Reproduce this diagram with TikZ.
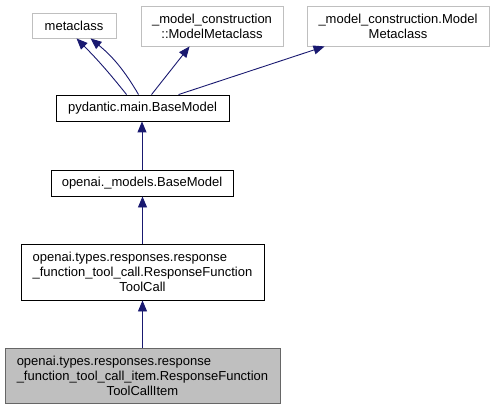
\documentclass[tikz,border=0pt]{standalone}
\usepackage{fontspec}
\setmainfont{Liberation Sans}
\usetikzlibrary{arrows.meta,calc}
\definecolor{edgeblue}{HTML}{191970}
\definecolor{boxgray}{HTML}{BFBFBF}
\definecolor{darkborder}{HTML}{666666}
\begin{document}
\begin{tikzpicture}[x=1pt,y=-1pt,
  every node/.style={font=\fontsize{13}{15}\selectfont, inner sep=0pt, align=center},
  extbox/.style={draw=boxgray, line width=0.9pt, rectangle},
  clsbox/.style={draw=black, line width=0.9pt, rectangle},
  curbox/.style={draw=darkborder, fill=boxgray, line width=0.9pt, rectangle},
  inh/.style={draw=edgeblue, line width=0.9pt, -{Triangle[length=11pt,width=9pt]}, fill=none}]
\useasboundingbox (0,0) rectangle (495,409);

\node[extbox, minimum width=84pt, minimum height=25pt] (meta) at (74,25.5) {metaclass};
\node[extbox, minimum width=142pt, minimum height=40pt] (mmca) at (212,26) {\_model\_construction\\::ModelMetaclass};
\node[extbox, minimum width=182pt, minimum height=40pt] (mmcb) at (398,26) {\_model\_construction.Model\\Metaclass};
\node[clsbox, minimum width=173pt, minimum height=26pt] (pyd) at (142.5,108) {pydantic.main.BaseModel};
\node[clsbox, minimum width=182pt, minimum height=26pt] (oai) at (142,183) {openai.\_models.BaseModel};
\node[clsbox, minimum width=243pt, minimum height=56pt] (rftc) at (142.5,272)
  {\rlap{openai.types.responses.response}\phantom{\_function\_tool\_call.ResponseFunction}\\\_function\_tool\_call.ResponseFunction\\ToolCall};
\node[curbox, minimum width=275pt, minimum height=55pt] (item) at (142.5,375.5)
  {\rlap{openai.types.responses.response}\phantom{\_function\_tool\_call\_item.ResponseFunction}\\\_function\_tool\_call\_item.ResponseFunction\\ToolCallItem};

\draw[inh] ($(pyd.north west)+(71,0)$) to[bend right=3] ($(meta.south west)+(45,0)$);
\draw[inh] ($(pyd.north west)+(83,0)$) to[bend right=10] ($(meta.south west)+(59,0)$);
\draw[inh] ($(pyd.north west)+(96,0)$) -- ($(mmca.south west)+(49,0)$);
\draw[inh] ($(pyd.north west)+(123,0)$) -- ($(mmcb.south west)+(18,0)$);
\draw[inh] (oai.north) -- (oai.north |- pyd.south);
\draw[inh] (rftc.north) -- (rftc.north |- oai.south);
\draw[inh] (item.north) -- (item.north |- rftc.south);
\end{tikzpicture}
\end{document}
